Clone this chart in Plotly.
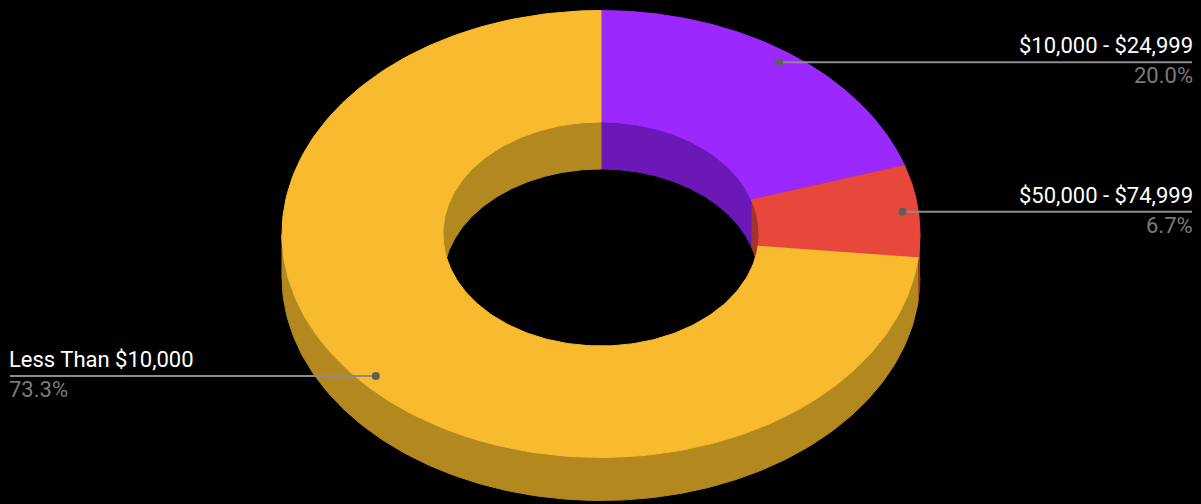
import numpy as np
import plotly.graph_objects as go

# Income bands, in drawing order (clockwise from 12 o'clock)
categories = ["$10,000 - $24,999", "$50,000 - $74,999", "Less Than $10,000"]
counts = [3, 1, 11]
top_colors = ["#9B28FD", "#E8483B", "#F8BA2F"]
side_colors = ["#6B18B6", "#A5332B", "#B2881F"]

W, H = 1201, 504
CX, CY = 601, 234          # centre of the top face
RX, RY = 319, 223.5        # outer ellipse radii
IRX, IRY = 158, 112        # hole ellipse radii
DEPTH = 43                 # outer wall height
IDEPTH = 47                # inner wall height
LABEL_R = 0.95             # where the leader dot sits, as a share of outer radius

values = np.array(counts, dtype=float)
shares = values / values.sum()
ends = np.cumsum(shares) * 360
starts = ends - shares * 360


def arc(rx, ry, a0, a1, dy=0.0, n=200):
    t = np.radians(np.linspace(a0, a1, n))
    return CX + rx * np.sin(t), CY - ry * np.cos(t) + dy


def poly(xs, ys, color):
    return go.Scatter(x=np.concatenate(xs), y=np.concatenate(ys), mode="lines",
                      fill="toself", fillcolor=color,
                      line=dict(color=color, width=1),
                      hoverinfo="skip", showlegend=False)


fig = go.Figure()

# outer wall: front half only (90..270 degrees)
for a, b, c in zip(starts, ends, side_colors):
    lo, hi = max(a, 90), min(b, 270)
    if lo < hi:
        x1, y1 = arc(RX, RY, lo, hi)
        x2, y2 = arc(RX, RY, hi, lo, DEPTH)
        fig.add_trace(poly([x1, x2], [y1, y2], c))

# inner wall: back half of the hole (-90..90 degrees)
for a, b, c in zip(starts, ends, side_colors):
    for off in (0, -360):
        lo, hi = max(a + off, -90), min(b + off, 90)
        if lo < hi:
            x1, y1 = arc(IRX, IRY, lo, hi)
            x2, y2 = arc(IRX, IRY, hi, lo, IDEPTH)
            fig.add_trace(poly([x1, x2], [y1, y2], c))

# top face: annular sectors
for a, b, c in zip(starts, ends, top_colors):
    x1, y1 = arc(RX, RY, a, b)
    x2, y2 = arc(IRX, IRY, b, a)
    fig.add_trace(poly([x1, x2], [y1, y2], c))

# leader lines, dots and labels
annotations = []
for a, b, name, s in zip(starts, ends, categories, shares):
    mid = np.radians((a + b) / 2)
    dx = CX + LABEL_R * RX * np.sin(mid)
    dy = CY - LABEL_R * RY * np.cos(mid)
    right = np.sin(mid) >= 0
    ex = 1192 if right else 10
    fig.add_trace(go.Scatter(x=[dx, ex], y=[dy, dy], mode="lines",
                             line=dict(color="#8C8C8C", width=2),
                             hoverinfo="skip", showlegend=False))
    fig.add_trace(go.Scatter(x=[dx], y=[dy], mode="markers",
                             marker=dict(color="#5E5E5E", size=8),
                             hoverinfo="skip", showlegend=False))
    anchor = "right" if right else "left"
    annotations.append(dict(x=ex, y=dy, text=name, showarrow=False,
                            xanchor=anchor, yanchor="bottom", yshift=2,
                            xshift=3 if right else -3,
                            font=dict(family="Roboto", size=22, color="#FFFFFF")))
    annotations.append(dict(x=ex, y=dy, text=f"{s * 100:.1f}%", showarrow=False,
                            xanchor=anchor, yanchor="top", yshift=1,
                            xshift=3 if right else -3,
                            font=dict(family="Roboto", size=22, color="#7A7A7A")))

fig.update_layout(
    width=W, height=H, margin=dict(l=0, r=0, t=0, b=0),
    paper_bgcolor="#000000", plot_bgcolor="#000000",
    xaxis=dict(range=[0, W], visible=False, fixedrange=True),
    yaxis=dict(range=[H, 0], visible=False, fixedrange=True),
    annotations=annotations, showlegend=False,
)

fig.write_html("out.html")
